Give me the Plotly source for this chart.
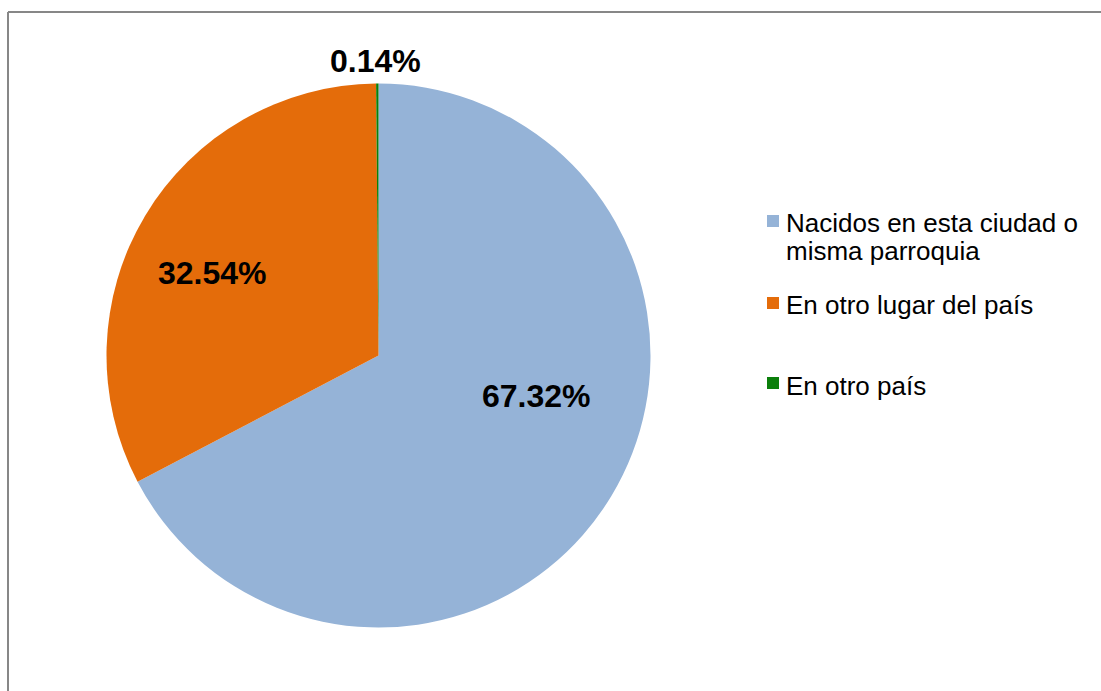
import plotly.graph_objects as go

# Lugar de nacimiento
categories = ["Nacidos en esta ciudad o misma parroquia", "En otro lugar del país", "En otro país"]
legend_lines = [["Nacidos en esta ciudad o", "misma parroquia"], ["En otro lugar del país"], ["En otro país"]]
values = [67.32, 32.54, 0.14]
colors = ["#95B3D7", "#E46C0A", "#0B7F0B"]

W, H = 1101, 691
FONT = "Liberation Sans, Arial, sans-serif"


def px(x):
    return x / W


def py(y):
    return 1 - y / H


fig = go.Figure(
    go.Pie(
        labels=categories,
        values=values,
        sort=False,
        direction="clockwise",
        rotation=0,
        marker=dict(colors=colors, line=dict(width=0)),
        textinfo="none",
        hoverinfo="label+percent",
        showlegend=False,
        domain=dict(x=[px(106.5), px(650.5)], y=[py(627.5), py(83.5)]),
    )
)

# Etiquetas de porcentaje
label_pos = [(536, 396), (212, 273), (375, 61)]
annotations = []
for v, (lx, ly) in zip(values, label_pos):
    annotations.append(dict(
        x=px(lx), y=py(ly), xref="paper", yref="paper",
        text=f"<b>{v:.2f}%</b>", showarrow=False,
        font=dict(family=FONT, size=32, color="#000000"),
        xanchor="center", yanchor="middle",
    ))

# Leyenda
legend_rows = [(221, [223, 251]), (303, [305]), (383, [386])]
shapes = []
for lines, col, (sq_y, txt_ys) in zip(legend_lines, colors, legend_rows):
    shapes.append(dict(
        type="rect", xref="paper", yref="paper",
        x0=px(767), x1=px(779), y0=py(sq_y + 6), y1=py(sq_y - 6),
        fillcolor=col, line=dict(width=0),
    ))
    for line, ty in zip(lines, txt_ys):
        annotations.append(dict(
            x=px(784), y=py(ty), xref="paper", yref="paper",
            text=line, showarrow=False, align="left",
            font=dict(family=FONT, size=26, color="#000000"),
            xanchor="left", yanchor="middle",
        ))

# Marco del gráfico
shapes.append(dict(type="line", xref="paper", yref="paper",
                   x0=px(8), x1=1, y0=py(12), y1=py(12),
                   line=dict(color="#878787", width=2)))
shapes.append(dict(type="line", xref="paper", yref="paper",
                   x0=px(8), x1=px(8), y0=py(12), y1=0,
                   line=dict(color="#878787", width=2)))

fig.update_layout(
    width=W, height=H,
    margin=dict(l=0, r=0, t=0, b=0),
    paper_bgcolor="#FFFFFF",
    plot_bgcolor="#FFFFFF",
    annotations=annotations,
    shapes=shapes,
    font=dict(family=FONT),
)

fig.write_html("out.html", config={"displayModeBar": False})
